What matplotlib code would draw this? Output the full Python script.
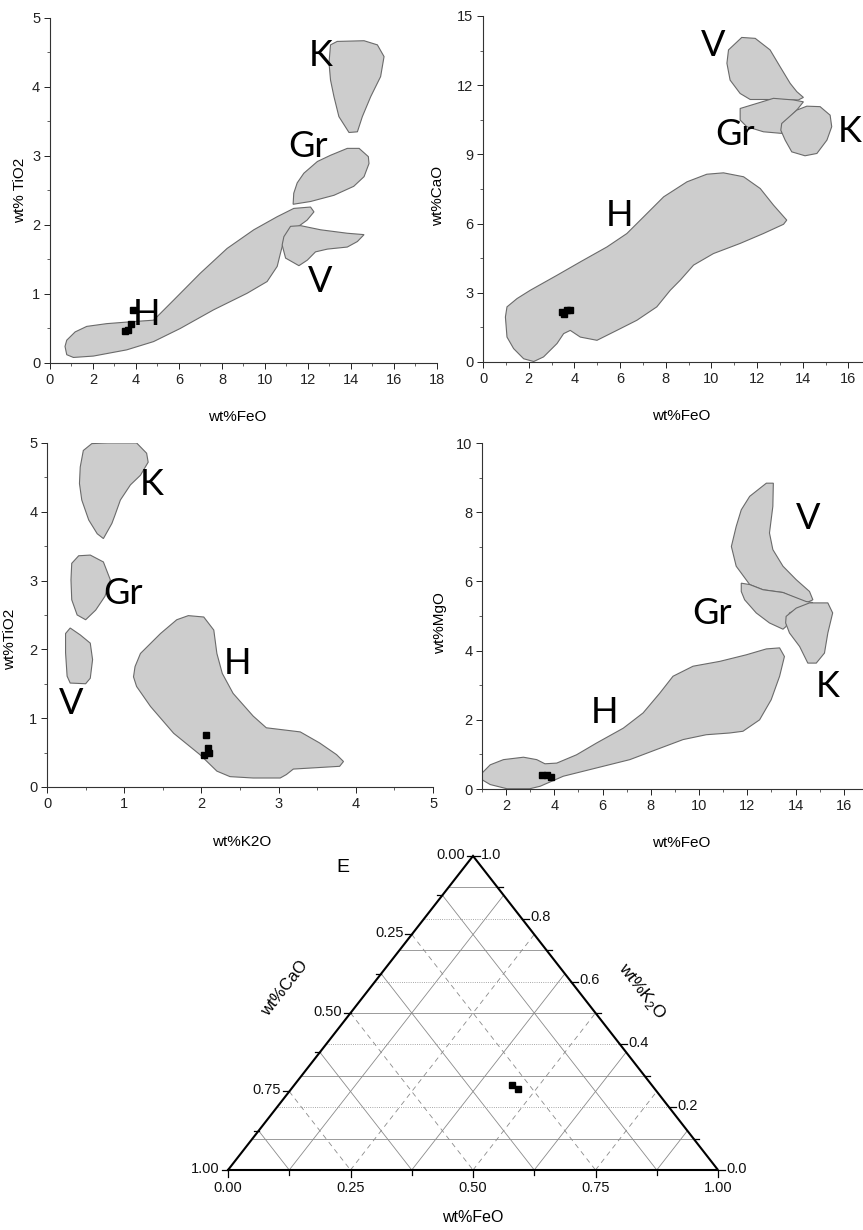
import matplotlib
matplotlib.use("Agg")
import matplotlib.pyplot as plt
from matplotlib.patches import Polygon
from matplotlib.ticker import MultipleLocator, AutoMinorLocator

plt.rcParams["font.family"] = ["Liberation Sans", "DejaVu Sans"]
plt.rcParams["mathtext.fontset"] = "custom"
plt.rcParams["mathtext.rm"] = "Liberation Sans"

FIELD_FILL = "#cdcdcd"
FIELD_EDGE = "#6a6a6a"
LABEL_FONT = ["Lato", "Liberation Sans"]

# ---------------- FeO vs TiO2 ----------------
a_H = [(0.70, 0.24), (0.78, 0.33), (1.17, 0.45), (1.71, 0.53), (2.64, 0.57), (3.88, 0.60),
       (4.82, 0.62), (5.75, 0.91), (6.99, 1.30), (8.24, 1.66), (9.48, 1.93), (10.57, 2.12),
       (11.34, 2.24), (12.12, 2.26), (12.28, 2.19), (11.96, 2.07), (11.34, 1.93), (10.88, 1.78),
       (10.72, 1.59), (10.57, 1.40), (10.10, 1.18), (9.17, 1.01), (7.61, 0.77), (6.06, 0.50),
       (4.82, 0.31), (3.57, 0.19), (2.02, 0.10), (1.09, 0.08), (0.78, 0.12)]
a_K = [(13.05, 4.61), (13.36, 4.66), (14.61, 4.67), (15.23, 4.61), (15.54, 4.44), (15.38, 4.15),
       (14.92, 3.86), (14.53, 3.57), (14.30, 3.35), (13.91, 3.34), (13.44, 3.57), (13.21, 3.86),
       (13.05, 4.10), (12.98, 4.35)]
a_Gr = [(11.34, 2.46), (11.31, 2.30), (12.12, 2.34), (13.21, 2.43), (14.13, 2.56), (14.61, 2.70),
        (14.84, 2.89), (14.81, 2.99), (14.38, 3.11), (13.83, 3.11), (13.05, 3.01), (12.44, 2.92),
        (11.81, 2.75), (11.50, 2.61)]
a_V = [(11.19, 1.98), (11.66, 1.99), (12.59, 1.93), (13.83, 1.88), (14.61, 1.86), (14.30, 1.76),
       (13.83, 1.68), (12.90, 1.65), (12.35, 1.61), (11.97, 1.49), (11.58, 1.41), (10.96, 1.52),
       (10.80, 1.71), (10.88, 1.83)]
a_labels = [("K", 12.59, 4.46), ("Gr", 12.0, 3.14), ("V", 12.59, 1.18), ("H", 4.51, 0.70)]
a_feo = [3.88, 3.76, 3.62, 3.50]
a_tio2 = [0.77, 0.57, 0.48, 0.46]

# ---------------- FeO vs CaO ----------------
b_H = [(0.98, 1.95), (1.05, 2.39), (1.49, 2.75), (2.07, 3.11), (3.24, 3.76), (4.26, 4.34),
       (5.43, 4.99), (6.30, 5.57), (7.03, 6.29), (7.91, 7.16), (8.93, 7.81), (9.80, 8.14),
       (10.53, 8.20), (11.41, 8.03), (12.14, 7.52), (12.72, 6.80), (13.30, 6.15), (13.16, 5.97),
       (12.28, 5.57), (11.26, 5.14), (10.09, 4.70), (9.22, 4.20), (8.63, 3.54), (8.20, 3.11),
       (7.61, 2.39), (6.74, 1.81), (5.86, 1.37), (4.99, 0.94), (4.26, 1.08), (3.82, 1.37),
       (3.53, 1.23), (3.24, 0.80), (2.65, 0.22), (2.22, 0.02), (1.78, 0.14), (1.34, 0.58),
       (1.05, 1.08)]
b_V = [(10.75, 13.53), (11.33, 14.07), (11.92, 14.03), (12.57, 13.53), (13.01, 12.80),
       (13.45, 12.08), (13.74, 11.72), (14.03, 11.47), (13.81, 11.36), (12.86, 11.38),
       (11.70, 11.38), (11.26, 11.64), (10.82, 12.22), (10.68, 12.95)]
b_Gr = [(11.26, 10.99), (12.72, 11.43), (13.59, 11.36), (14.03, 11.28), (13.74, 10.92),
        (13.16, 10.34), (13.08, 9.91), (12.28, 9.98), (11.55, 10.20), (11.26, 10.49)]
b_K = [(13.08, 10.34), (13.74, 10.92), (14.18, 11.09), (14.76, 11.07), (15.20, 10.70),
       (15.27, 10.20), (15.06, 9.62), (14.62, 9.04), (14.10, 8.94), (13.52, 9.11),
       (13.23, 9.62), (13.04, 10.05)]
b_labels = [("V", 10.06, 13.70), ("Gr", 11.03, 9.88), ("K", 16.05, 9.98), ("H", 5.97, 6.36)]
b_feo = [3.46, 3.68, 3.82, 3.53]
b_cao = [2.17, 2.24, 2.27, 2.10]

# ---------------- K2O vs TiO2 ----------------
c_K = [(0.43, 4.65), (0.47, 4.89), (0.58, 4.99), (0.78, 5.0), (1.16, 5.0), (1.29, 4.85),
       (1.31, 4.72), (1.21, 4.53), (1.08, 4.39), (0.95, 4.17), (0.88, 3.95), (0.84, 3.83),
       (0.73, 3.61), (0.65, 3.68), (0.54, 3.88), (0.45, 4.17), (0.42, 4.41)]
c_Gr = [(0.32, 3.25), (0.41, 3.36), (0.56, 3.37), (0.73, 3.27), (0.82, 3.01), (0.75, 2.77),
        (0.63, 2.57), (0.50, 2.43), (0.39, 2.50), (0.32, 2.72), (0.31, 3.01)]
c_V = [(0.24, 2.23), (0.30, 2.31), (0.43, 2.21), (0.56, 2.09), (0.59, 1.85), (0.56, 1.58),
       (0.50, 1.50), (0.30, 1.51), (0.26, 1.61), (0.24, 1.95)]
c_H = [(1.14, 1.75), (1.21, 1.94), (1.47, 2.23), (1.68, 2.43), (1.83, 2.49), (2.03, 2.47),
       (2.16, 2.28), (2.20, 1.94), (2.27, 1.65), (2.41, 1.36), (2.67, 1.03), (2.84, 0.86),
       (3.06, 0.83), (3.28, 0.80), (3.53, 0.64), (3.75, 0.47), (3.84, 0.37), (3.79, 0.30),
       (3.49, 0.28), (3.19, 0.26), (3.10, 0.18), (3.02, 0.13), (2.67, 0.13), (2.37, 0.15),
       (2.20, 0.23), (1.98, 0.47), (1.64, 0.78), (1.34, 1.17), (1.16, 1.46), (1.12, 1.60)]
c_labels = [("K", 1.36, 4.39), ("Gr", 0.98, 2.81), ("V", 0.31, 1.21), ("H", 2.47, 1.80)]
c_k2o = [2.06, 2.09, 2.10, 2.03]
c_tio2 = [0.76, 0.57, 0.49, 0.47]

# ---------------- FeO vs MgO ----------------
d_H = [(1.0, 0.46), (1.34, 0.70), (1.89, 0.85), (2.72, 0.92), (3.27, 0.85), (3.61, 0.73),
       (4.10, 0.75), (4.92, 0.99), (5.75, 1.33), (6.86, 1.76), (7.68, 2.20), (8.37, 2.77),
       (8.92, 3.26), (9.75, 3.55), (10.86, 3.69), (11.96, 3.88), (12.79, 4.05), (13.34, 4.08),
       (13.54, 3.83), (13.34, 3.26), (12.99, 2.58), (12.51, 2.00), (11.82, 1.67), (11.27, 1.62),
       (10.30, 1.57), (9.34, 1.43), (8.23, 1.14), (7.13, 0.85), (5.75, 0.61), (4.37, 0.37),
       (3.41, 0.08), (2.99, 0.01), (2.03, 0.01), (1.34, 0.13), (1.0, 0.27)]
d_V = [(12.10, 8.46), (12.79, 8.84), (13.08, 8.84), (13.06, 8.17), (12.92, 7.40), (13.06, 6.92),
       (13.48, 6.44), (14.03, 6.05), (14.58, 5.71), (14.72, 5.47), (14.44, 5.38), (13.48, 5.68),
       (12.65, 5.76), (12.10, 5.91), (11.54, 6.44), (11.34, 7.01), (11.54, 7.59), (11.75, 8.07)]
d_Gr = [(11.75, 5.95), (12.10, 5.91), (12.65, 5.76), (13.48, 5.68), (14.44, 5.42), (14.72, 5.39),
        (13.75, 5.09), (13.61, 4.70), (13.48, 4.62), (12.92, 4.80), (12.37, 5.09), (11.89, 5.47),
        (11.75, 5.71)]
d_K = [(13.61, 4.99), (14.03, 5.23), (14.58, 5.38), (15.34, 5.38), (15.54, 5.09), (15.34, 4.51),
       (15.20, 3.93), (14.86, 3.64), (14.51, 3.64), (14.17, 4.12), (13.75, 4.51), (13.59, 4.80)]
d_labels = [("V", 14.51, 7.81), ("Gr", 10.55, 5.07), ("K", 15.34, 2.95), ("H", 6.10, 2.20)]
d_feo = [3.48, 3.68, 3.85]
d_mgo = [0.41, 0.40, 0.34]

# ---------------- ternary FeO - CaO - K2O ----------------
e_feo = [0.445, 0.463]
e_cao = [0.285, 0.279]
e_k2o = [0.270, 0.258]


def field_panel(ax, fields, labels, xs, ys, xlim, ylim, xticks, ymajor,
                xlabel, ylabel, xlab_pos, ylab_pos):
    for poly in fields:
        ax.add_patch(Polygon(poly, closed=True, facecolor=FIELD_FILL,
                             edgecolor=FIELD_EDGE, lw=0.8, zorder=1))
    for text, x, y in labels:
        ax.text(x, y, text, ha="center", va="center", fontsize=26,
                family=LABEL_FONT, zorder=3, clip_on=False)
    ax.plot(xs, ys, "s", color="black", ms=4, zorder=4)

    ax.set_xlim(*xlim)
    ax.set_ylim(*ylim)
    ax.set_xticks(xticks)
    ax.yaxis.set_major_locator(MultipleLocator(ymajor))
    ax.xaxis.set_minor_locator(MultipleLocator((xticks[1] - xticks[0]) / 2))
    ax.yaxis.set_minor_locator(AutoMinorLocator(2))
    ax.tick_params(which="major", direction="out", length=4, width=0.7,
                   labelsize=10.5, colors="#222222", pad=3)
    ax.tick_params(which="minor", direction="out", length=2, width=0.6, colors="#444444")
    for side in ("top", "right"):
        ax.spines[side].set_visible(False)
    for side in ("left", "bottom"):
        ax.spines[side].set_linewidth(0.8)
        ax.spines[side].set_color("#333333")
    ax.set_xlabel(xlabel, fontsize=11)
    ax.set_ylabel(ylabel, fontsize=11)
    ax.xaxis.set_label_coords(*xlab_pos)
    ax.yaxis.set_label_coords(*ylab_pos)


fig = plt.figure(figsize=(8.63, 12.30), dpi=100)

ax_a = fig.add_axes([0.0579, 0.7049, 0.4484, 0.2805])
field_panel(ax_a, [a_H, a_V, a_Gr, a_K], a_labels, a_feo, a_tio2, (0, 18), (0, 5),
            list(range(0, 19, 2)), 1, "wt%FeO", "wt% TiO2", (0.485, -0.135), (-0.06, 0.5))

ax_b = fig.add_axes([0.5597, 0.7057, 0.4763, 0.2813])
field_panel(ax_b, [b_H, b_V, b_Gr, b_K], b_labels, b_feo, b_cao, (0, 18), (0, 15),
            list(range(0, 17, 2)), 3, "wt%FeO", "wt%CaO", (0.482, -0.135), (-0.092, 0.48))

ax_c = fig.add_axes([0.0545, 0.3602, 0.4473, 0.2797])
field_panel(ax_c, [c_K, c_Gr, c_V, c_H], c_labels, c_k2o, c_tio2, (0, 5), (0, 5),
            list(range(0, 6)), 1, "wt%K2O", "wt%TiO2", (0.505, -0.14), (-0.078, 0.43))

ax_d = fig.add_axes([0.5585, 0.3585, 0.4751, 0.2813])
field_panel(ax_d, [d_H, d_V, d_Gr, d_K], d_labels, d_feo, d_mgo, (1, 18), (0, 10),
            list(range(2, 17, 2)), 2, "wt%FeO", "wt%MgO", (0.485, -0.135), (-0.085, 0.48))

# ternary: x = FeO + K2O/2, y = K2O on a unit triangle
ax_e = fig.add_axes([0.2642, 0.04878, 0.5678, 0.2553])
ax_e.set_xlim(0, 1)
ax_e.set_ylim(0, 1)
ax_e.axis("off")

grid_kw = dict(color="#8a8a8a", lw=0.6, zorder=1)
for i in range(1, 10):
    k = i / 10
    style = "-" if i % 2 else ":"
    ax_e.plot([k / 2, 1 - k / 2], [k, k], ls=style, **grid_kw)
for i in range(1, 8):
    f = i / 8
    style = "-" if i % 2 else (0, (6, 5))
    # constant FeO, parallel to the CaO side
    ax_e.plot([f, f + (1 - f) / 2], [0, 1 - f], ls=style, **grid_kw)
    # constant CaO, parallel to the K2O side
    ax_e.plot([(1 - f) / 2, 1 - f], [1 - f, 0], ls=style, **grid_kw)

ax_e.plot([0, 0.5, 1, 0], [0, 1, 0, 0], color="black", lw=1.5, zorder=3,
          solid_joinstyle="miter", clip_on=False)

dx = 5 / 490
dy = 5 / 314
tick_kw = dict(color="black", lw=0.9, clip_on=False, zorder=3)
for i in range(9):
    f = i / 8
    ln = 1.3 if i % 2 == 0 else 1.0
    ax_e.plot([f, f], [0, -dy * ln], **tick_kw)
    c = i / 8
    ax_e.plot([(1 - c) / 2, (1 - c) / 2 - dx * ln], [1 - c, 1 - c], **tick_kw)
for i in range(11):
    k = i / 10
    ln = 1.3 if i % 2 == 0 else 1.0
    ax_e.plot([1 - k / 2, 1 - k / 2 + dx * ln], [k, k], **tick_kw)

lab_kw = dict(fontsize=10.5, color="#111111", annotation_clip=False)
for i in range(5):
    f = i / 4
    ax_e.annotate(f"{f:.2f}", (f, 0), xytext=(0, -8), textcoords="offset points",
                  ha="center", va="top", **lab_kw)
    ax_e.annotate(f"{f:.2f}", ((1 - f) / 2, 1 - f), xytext=(-6, 1), textcoords="offset points",
                  ha="right", va="center", **lab_kw)
for i in range(6):
    k = i / 5
    ax_e.annotate(f"{k:.1f}", (1 - k / 2, k), xytext=(6, 1), textcoords="offset points",
                  ha="left", va="center", **lab_kw)

ax_e.text(0.5, -0.15, "wt%FeO", ha="center", va="center", fontsize=11.5,
          transform=ax_e.transAxes)
ax_e.text(0.116, 0.58, "wt%CaO", ha="center", va="center", fontsize=12, rotation=52)
ax_e.text(0.845, 0.57, "wt%K$_2$O", ha="center", va="center", fontsize=12.5, rotation=-52)
ax_e.text(0.235, 0.962, "E", ha="center", va="center", fontsize=14)

ex = [f + k / 2 for f, k in zip(e_feo, e_k2o)]
ax_e.plot(ex, e_k2o, "s", color="black", ms=4.5, zorder=4)

fig.savefig("out.png", dpi=100, facecolor="white")
